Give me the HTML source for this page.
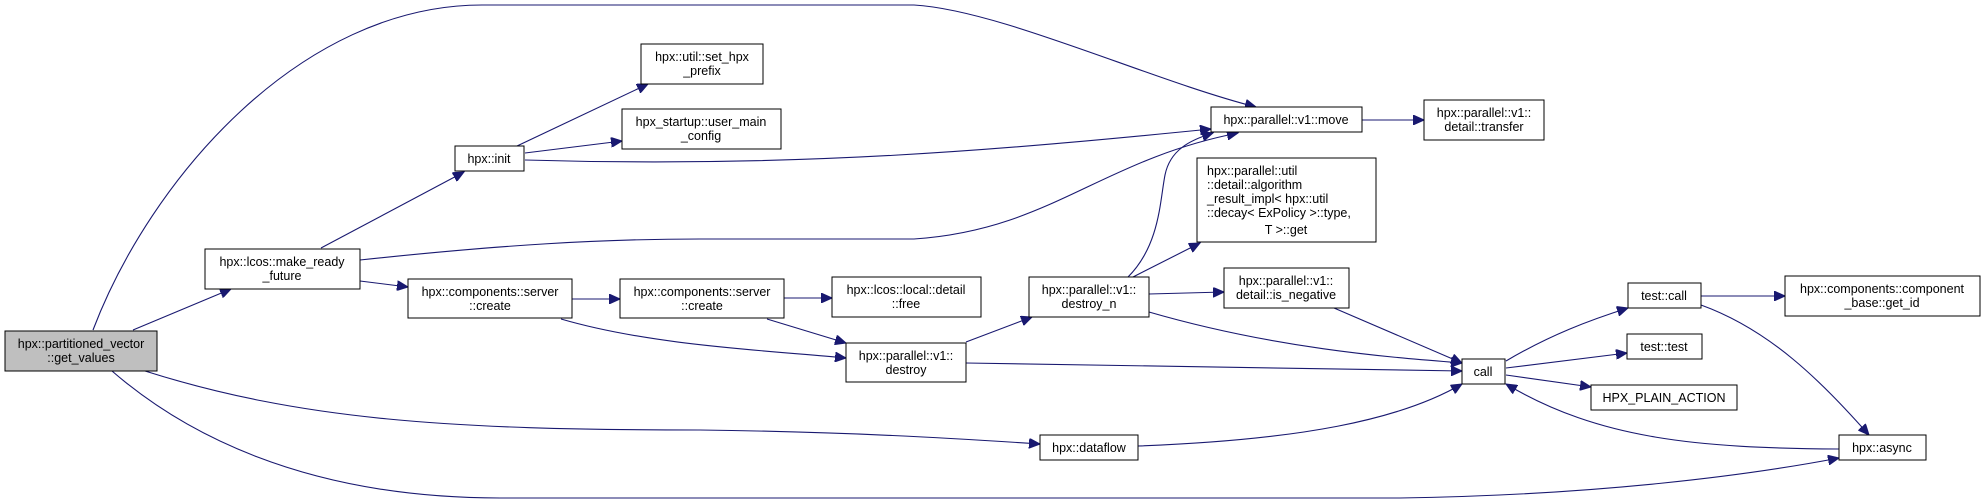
<!DOCTYPE html>
<html><head><meta charset="utf-8"><style>
html,body{margin:0;padding:0;background:#fff;}
svg{display:block;}
text{font-family:"Liberation Sans",sans-serif;font-size:12.5px;fill:#000;}
</style></head><body>
<svg width="1985" height="504" viewBox="0 0 1985 504" xmlns="http://www.w3.org/2000/svg">
<defs>
<marker id="a" markerUnits="userSpaceOnUse" markerWidth="12" markerHeight="10" refX="11" refY="5" orient="auto">
<path d="M0,0 L11,5 L0,10 z" fill="#191970" stroke="#191970"/>
</marker>
</defs>
<g fill="none" stroke="#191970" stroke-width="1.1" marker-end="url(#a)">
<path d="M93,330 C150,180 300,5 482,5 L914,5 C1000,10 1150,80 1256,107"/>
<path d="M133,330 L231,289"/>
<path d="M321,248 L464,172"/>
<path d="M517,146 L648,84"/>
<path d="M525,153 L622,141"/>
<path d="M525,160 C800,168 1000,150 1211,129"/>
<path d="M360,260 C500,245 600,239 700,239 L914,239 C1050,230 1100,160 1238,133"/>
<path d="M360,281 L408,287"/>
<path d="M572,299 L620,299"/>
<path d="M784,298 L832,298"/>
<path d="M767,319 L846,343"/>
<path d="M561,319 C650,345 760,350 846,358"/>
<path d="M966,342 L1032,317"/>
<path d="M966,363 C1200,367 1350,370 1462,371"/>
<path d="M1128,277 C1160,245 1160,200 1165,175 C1170,150 1190,140 1213,133"/>
<path d="M1133,277 L1200,243"/>
<path d="M1149,294 L1224,292"/>
<path d="M1149,312 C1280,350 1400,358 1462,363"/>
<path d="M1334,308 L1462,363"/>
<path d="M1138,446 C1300,440 1400,420 1462,384"/>
<path d="M145,371 C300,420 450,430 700,430 C850,432 950,438 1040,444"/>
<path d="M112,371 C180,430 300,498 500,498 L1400,498 C1600,495 1750,475 1839,458"/>
<path d="M1506,361 C1550,335 1590,320 1628,308"/>
<path d="M1506,368 L1627,353"/>
<path d="M1506,375 L1591,387"/>
<path d="M1839,449 C1700,448 1600,440 1506,384"/>
<path d="M1701,296 L1785,296"/>
<path d="M1701,305 C1770,330 1820,380 1869,435"/>
<path d="M1362,120 L1424,120"/>
</g>
<g stroke="#000" stroke-width="1" fill="#fff">
<rect x="5" y="331" width="152" height="40" fill="#bfbfbf"/>
<rect x="205" y="249" width="155" height="40"/>
<rect x="455" y="146" width="69" height="25"/>
<rect x="641" y="44" width="122" height="40"/>
<rect x="622" y="109" width="159" height="40"/>
<rect x="408" y="279" width="164" height="39"/>
<rect x="620" y="279" width="164" height="39"/>
<rect x="832" y="277" width="149" height="40"/>
<rect x="846" y="343" width="120" height="39"/>
<rect x="1029" y="277" width="120" height="40"/>
<rect x="1211" y="107" width="151" height="25"/>
<rect x="1197" y="158" width="179" height="84"/>
<rect x="1224" y="268" width="125" height="40"/>
<rect x="1040" y="435" width="98" height="25"/>
<rect x="1424" y="100" width="120" height="40"/>
<rect x="1462" y="359" width="43" height="25"/>
<rect x="1628" y="283" width="73" height="25"/>
<rect x="1785" y="276" width="195" height="40"/>
<rect x="1627" y="334" width="75" height="25"/>
<rect x="1591" y="385" width="146" height="25"/>
<rect x="1839" y="435" width="87" height="25"/>
</g>
<g text-anchor="middle">
<text x="81" y="348">hpx::partitioned_vector</text><text x="81" y="362">::get_values</text>
<text x="282" y="266">hpx::lcos::make_ready</text><text x="282" y="280">_future</text>
<text x="489" y="163">hpx::init</text>
<text x="702" y="61">hpx::util::set_hpx</text><text x="702" y="75">_prefix</text>
<text x="701" y="126">hpx_startup::user_main</text><text x="701" y="140">_config</text>
<text x="490" y="296">hpx::components::server</text><text x="490" y="310">::create</text>
<text x="702" y="296">hpx::components::server</text><text x="702" y="310">::create</text>
<text x="906" y="294">hpx::lcos::local::detail</text><text x="906" y="308">::free</text>
<text x="906" y="360">hpx::parallel::v1::</text><text x="906" y="374">destroy</text>
<text x="1089" y="294">hpx::parallel::v1::</text><text x="1089" y="308">destroy_n</text>
<text x="1286" y="124">hpx::parallel::v1::move</text>
<text x="1286" y="234">T &gt;::get</text>
<text x="1286" y="285">hpx::parallel::v1::</text><text x="1286" y="299">detail::is_negative</text>
<text x="1089" y="452">hpx::dataflow</text>
<text x="1484" y="117">hpx::parallel::v1::</text><text x="1484" y="131">detail::transfer</text>
<text x="1483" y="376">call</text>
<text x="1664" y="300">test::call</text>
<text x="1882" y="293">hpx::components::component</text><text x="1882" y="307">_base::get_id</text>
<text x="1664" y="351">test::test</text>
<text x="1664" y="402">HPX_PLAIN_ACTION</text>
<text x="1882" y="452">hpx::async</text>
</g>
<g>
<text x="1207" y="175">hpx::parallel::util</text>
<text x="1207" y="189">::detail::algorithm</text>
<text x="1207" y="203">_result_impl&lt; hpx::util</text>
<text x="1207" y="217">::decay&lt; ExPolicy &gt;::type,</text>
</g>
</svg>
</body></html>
